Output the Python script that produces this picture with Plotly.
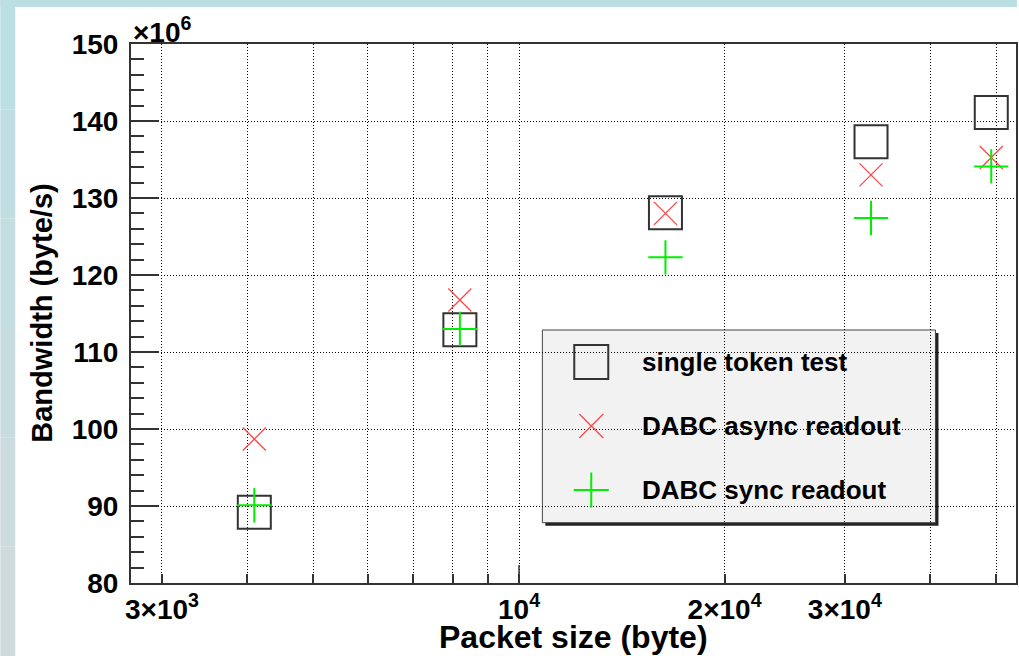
import plotly.graph_objects as go

# ---- data (bandwidth in units of 10^6 byte/s) ----
packet_size = [4096, 8192, 16384, 32768, 49152]
single_token = [89.2, 112.9, 128.1, 137.3, 141.1]
dabc_async = [98.7, 116.75, 128.0, 133.0, 135.25]
dabc_sync = [90.1, 113.0, 122.3, 127.4, 134.1]

series_names = ["single token test", "DABC async readout", "DABC sync readout"]

x_tickvals = [3000, 10000, 20000, 30000]
x_ticktext = ["3×10<sup>3</sup>", "10<sup>4</sup>", "2×10<sup>4</sup>", "3×10<sup>4</sup>"]
x_minorvals = [4000, 5000, 6000, 7000, 8000, 9000, 40000, 50000]
y_tickvals = [80, 90, 100, 110, 120, 130, 140, 150]

W, H = 1019, 656
L, R, T, B = 131, 1, 44, 73
PW, PH = W - L - R, H - T - B

FONT = "Liberation Sans"
BLACK = "#333333"
RED = "rgb(255,70,70)"
GREEN = "#00ee00"


def px(xp):
    return (xp - L) / PW


def py(yp):
    return (T + PH - yp) / PH


fig = go.Figure()

fig.add_trace(go.Scatter(
    x=packet_size, y=single_token, mode="markers", name=series_names[0],
    marker=dict(symbol="square-open", size=33, color=BLACK, line=dict(width=2, color=BLACK)),
    showlegend=False))
fig.add_trace(go.Scatter(
    x=packet_size, y=dabc_async, mode="markers", name=series_names[1],
    marker=dict(symbol="x-thin-open", size=23, color=RED, line=dict(width=1.3, color=RED)),
    showlegend=False))
fig.add_trace(go.Scatter(
    x=packet_size, y=dabc_sync, mode="markers", name=series_names[2],
    marker=dict(symbol="cross-thin-open", size=24.5, color=GREEN, line=dict(width=2, color=GREEN)),
    showlegend=False))

# ---- manual legend (large markers) on an overlay paper-like axis ----
leg_marker_x = px(592.3)
leg_rows_y = [py(362), py(426), py(490)]
leg_text_x = px(641)
leg_styles = [
    dict(symbol="square-open", size=34, color=BLACK, line=dict(width=2, color=BLACK)),
    dict(symbol="x-thin-open", size=24, color=RED, line=dict(width=1.3, color=RED)),
    dict(symbol="cross-thin-open", size=25, color=GREEN, line=dict(width=2, color=GREEN)),
]
for yy, st in zip(leg_rows_y, leg_styles):
    fig.add_trace(go.Scatter(x=[leg_marker_x], y=[yy], mode="markers", marker=st,
                             xaxis="x2", yaxis="y2", showlegend=False, hoverinfo="skip"))

shapes = []
# background strips (ROOT canvas border)
bands = ["#bcdfe2", "#c0dee1", "#c4dde0", "#c8dcdf", "#ccdbde", "#cfdadd"]
nb = len(bands)
for i, c in enumerate(bands):
    ytop = i * H / nb
    ybot = (i + 1) * H / nb
    shapes.append(dict(type="rect", xref="paper", yref="paper",
                       x0=px(0), x1=px(15), y0=py(ybot), y1=py(ytop),
                       fillcolor=c, line=dict(width=0), layer="below"))
shapes.append(dict(type="rect", xref="paper", yref="paper",
                   x0=px(0), x1=px(W), y0=py(7), y1=py(0),
                   fillcolor="#bcdfe2", line=dict(width=0), layer="below"))

# legend box with shadow
lx0, lx1, ly0, ly1 = 543.3, 937.3, 330, 522.7
shapes.append(dict(type="rect", xref="paper", yref="paper",
                   x0=px(lx0 + 3), x1=px(lx1 + 3), y0=py(ly1 + 3), y1=py(ly0 + 3),
                   fillcolor="#222222", line=dict(width=0), layer="between"))
shapes.append(dict(type="rect", xref="paper", yref="paper",
                   x0=px(lx0), x1=px(lx1), y0=py(ly1), y1=py(ly0),
                   fillcolor="#f2f2f2", line=dict(width=1, color="#444444"), layer="between"))
# long major tick at 10^4
shapes.append(dict(type="line", xref="x", yref="paper", x0=10000, x1=10000,
                   y0=0, y1=18 / PH, line=dict(width=1.5, color=BLACK)))

annotations = []
for yy, name in zip(leg_rows_y, series_names):
    annotations.append(dict(x=leg_text_x, y=yy, xref="paper", yref="paper",
                            text=name, showarrow=False, xanchor="left", yanchor="middle",
                            font=dict(family=FONT, size=26, weight="bold", color="black")))
annotations.append(dict(x=0.5, y=py(637), xref="paper", yref="paper",
                        text="Packet size (byte)", showarrow=False,
                        xanchor="center", yanchor="middle",
                        font=dict(family=FONT, size=32, weight="bold", color="black")))
annotations.append(dict(x=px(41), y=0.5, xref="paper", yref="paper",
                        text="Bandwidth (byte/s)", showarrow=False, textangle=-90,
                        xanchor="center", yanchor="middle",
                        font=dict(family=FONT, size=29, weight="bold", color="black")))
annotations.append(dict(x=0, y=py(30), xref="paper", yref="paper",
                        text="×10<sup>6</sup>", showarrow=False,
                        xanchor="left", yanchor="middle",
                        font=dict(family=FONT, size=28, weight="bold", color="black")))

fig.update_layout(
    width=W, height=H,
    margin=dict(l=L, r=R, t=T, b=B, pad=0),
    paper_bgcolor="white", plot_bgcolor="white",
    showlegend=False,
    shapes=shapes, annotations=annotations,
    xaxis=dict(
        type="log", range=[3.4318, 4.72775],
        tickmode="array", tickvals=x_tickvals, ticktext=x_ticktext,
        ticks="inside", ticklen=9, tickwidth=1.5, tickcolor=BLACK,
        showline=True, linewidth=2, linecolor=BLACK, mirror=True,
        showgrid=True, gridcolor="black", gridwidth=1, griddash="1px,2px",
        tickfont=dict(family=FONT, size=28, weight="bold", color="black"),
        ticklabelstandoff=0,
        minor=dict(tickmode="array", tickvals=x_minorvals, ticks="inside", ticklen=9,
                   tickwidth=1.5, tickcolor=BLACK, showgrid=True,
                   gridcolor="black", gridwidth=1, griddash="1px,2px"),
        zeroline=False, fixedrange=True,
    ),
    yaxis=dict(
        range=[80, 150],
        tickmode="array", tickvals=y_tickvals,
        ticks="inside", ticklen=28, tickwidth=1.5, tickcolor=BLACK,
        showline=True, linewidth=2, linecolor=BLACK, mirror=True,
        showgrid=True, gridcolor="black", gridwidth=1, griddash="1px,2px",
        tickfont=dict(family=FONT, size=28, weight="bold", color="black"),
        ticklabelstandoff=5,
        minor=dict(dtick=2, ticks="inside", ticklen=13, tickwidth=1.5,
                   tickcolor=BLACK, showgrid=False),
        zeroline=False, fixedrange=True,
    ),
    xaxis2=dict(range=[0, 1], overlaying="x", visible=False, fixedrange=True),
    yaxis2=dict(range=[0, 1], overlaying="y", visible=False, fixedrange=True),
)

fig.write_html(
    "out.html",
    config={"displayModeBar": False},
    post_script="document.body.style.margin='0';document.body.style.overflow='hidden';",
)
